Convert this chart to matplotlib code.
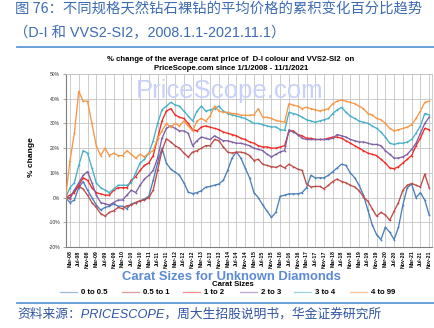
import numpy as np
import pandas as pd
import matplotlib
matplotlib.use("Agg")
import matplotlib.pyplot as plt
from matplotlib.lines import Line2D

# ---------------- data ----------------
dates = pd.date_range("2008-01-01", "2021-11-01", freq="2MS")

s_0_05 = [0, -2, -1, 4, 6.5, 3, 0, -3, -5, -4,
          -3.5, -2.6, -3.5, -3.5, -4.5, -2.6, -2, -1.5, -0.5, 0.5,
          7, 14, 20, 14, 11.5, 10.3, 9, 6, 2.2, 1.6,
          2, 2.8, 4.2, 4.5, 5, 5.5, 7, 11, 16, 18.5,
          16, 12, 8, 2, 0, -3, -5.5, -8, -6, 0.5,
          1, 1.5, 1.5, 1.5, 2, 4, 9, 8, 8, 8,
          9, 10.5, 12, 13.5, 13, 10, 8, 5, 1, -5,
          -11, -15, -17, -12, -14, -17, -12, -3, 4, 5.5,
          0, 2, -1, -7]
s_05_1 = [0, -0.5, 3, 4.5, 3.5, 1, -2, -4, -6.5, -7.5,
          -6, -5.3, -4, -4.5, -3.3, -3, -2, -1.2, -1, 0,
          3, 11, 19, 23.8, 22.5, 21, 20, 18, 16.4, 18.4,
          19, 20, 21, 21, 23.5, 23, 20.5, 18.4, 18, 18.4,
          18.4, 18, 17, 15, 15.5, 13.5, 13, 12.5, 12.2, 13,
          12, 13.5, 12.5, 11.5, 11, 5.5, 4.3, 4.5, 4.5, 3.6,
          5, 6.5, 7.5, 6.5, 6, 5, 4.3, 2.8, 0.3, -1.5,
          -4.5, -7.5, -6, -7, -9.2, -5.5, -2, 3, 5, 5.7,
          5, 4.3, 9.5, 4]
s_1_2 = [0, 1, 2, 5, 8, 7, 4, 2, 1.5, 1,
         1, 3, 4, 4, 4, 7, 8.5, 11, 13, 14,
         17, 24, 31, 35, 36, 33.5, 32.5, 32, 30, 27.5,
         27, 28.5, 29, 28.5, 28, 27.5, 26.5, 26, 25.5, 25,
         24, 23.5, 22.5, 22, 21, 20.5, 20.5, 20, 20, 20.5,
         21, 27, 27, 25.5, 25, 24, 24, 23.5, 23.5, 23.5,
         24, 24.5, 24.5, 24, 23, 22, 21, 20, 19, 18,
         17.5, 17, 15.5, 14, 12, 11.7, 12.5, 14, 15.5, 17,
         21, 24, 28, 27.5]
s_2_3 = [0, 0, 3, 6, 9, 10.5, 6, 1, -2, -2.5,
         -3, -2, -1, -1, 1, 3, 2, 5, 7.5, 9,
         11, 16, 24, 28, 29, 28, 27, 27, 26, 21,
         23, 24.5, 24, 23.5, 25, 24, 23, 23, 22.5, 22,
         22, 21.5, 21, 20, 19.5, 19, 17.5, 16.5, 17.5, 18.5,
         19, 27.5, 26.5, 25.5, 24, 23.5, 23.5, 23.5, 23.5, 23.5,
         23.5, 24, 25.5, 25, 24.5, 23.5, 23, 22.5, 22.5, 22,
         21.5, 21.5, 21, 19, 17.5, 16, 16, 16.5, 17.5, 19.5,
         22, 26, 30, 32.5]
s_3_4 = [0, 4, 6, 13, 19, 18, 12, 6, 4, 3,
         2, 3.5, 5, 5, 5, 6, 10, 14, 15.5, 18,
         23, 30, 35.5, 37, 38.5, 37.5, 37, 35, 33, 31,
         35, 37, 35, 35.5, 36, 37, 35, 34, 33.5, 33,
         32.5, 32, 31, 30, 30, 29.5, 29, 28.6, 28.6, 27.5,
         27.2, 34.5, 34, 33.5, 32.5, 31.5, 31, 30.5, 31, 31.5,
         32, 34, 35.5, 36.5, 34.5, 33, 32, 31, 30.5, 30,
         29, 28, 26.5, 24.5, 22, 21.5, 22, 22, 22.5, 23.5,
         26, 29, 34, 33.5]
s_4_99 = [0, 15, 26, 43, 39, 39, 30, 21, 17, 20,
          17, 18, 17, 17, 19, 17.5, 16, 17.5, 16.5, 18,
          19, 24, 27, 30, 28.5, 30, 29, 31, 29, 27,
          31, 32, 31, 33, 37, 35, 34.5, 34.5, 34, 34,
          33.3, 33.3, 33.3, 33.5, 36, 32.5, 32.5, 32, 31.2, 30.8,
          30.6, 38, 37.4, 37, 36, 36.5, 36, 35.5, 35, 35.5,
          36, 38, 39, 39.4, 39, 38.5, 38, 37, 36, 34,
          33.5, 32, 31.5, 30, 28, 27, 27.5, 28, 28.5, 29.5,
          32, 35, 38.5, 39]

series_names = ["0 to 0.5", "0.5 to 1", "1 to 2", "2 to 3", "3 to 4", "4 to 99"]
series_values = [s_0_05, s_05_1, s_1_2, s_2_3, s_3_4, s_4_99]
series_colors = ["#4a7ebb", "#be4b48", "#f42a24", "#7f5fa6", "#45b0c8", "#f79646"]

tick_labels = ["Mar-08", "Jul-08", "Nov-08", "Mar-09", "Jul-09", "Nov-09",
               "Mar-10", "Jul-10", "Nov-10", "Mar-11", "Jul-11", "Nov-11",
               "Mar-12", "Jul-12", "Nov-12", "Mar-13", "Jul-13", "Nov-13",
               "Mar-14", "Jul-14", "Nov-14", "Mar-15", "Jul-15", "Nov-15",
               "Mar-16", "Jul-16", "Nov-16", "Mar-17", "Jul-17", "Nov-17",
               "Mar-18", "Jul-18", "Nov-18", "Mar-19", "Jul-19", "Nov-19",
               "Mar-20", "Jul-20", "Nov-20", "Mar-21", "Jul-21", "Nov-21"]
tick_dates = pd.to_datetime(["01-" + t for t in tick_labels], format="%d-%b-%y")

def month_index(d):
    return (d.year - 2008) * 12 + (d.month - 1)

x = np.array([month_index(d) for d in dates])
xt = np.array([month_index(d) for d in tick_dates])

# ---------------- figure ----------------
W, H = 434, 328
fig = plt.figure(figsize=(W / 100, H / 100), dpi=100)
fig.patch.set_facecolor("white")

def fx(px):
    return px / W

def fy(py):
    return 1 - py / H

cjk = ["Noto Sans CJK SC", "DejaVu Sans"]
lat_cjk = ["Liberation Sans", "Noto Sans CJK SC"]
hdr_col = "#3d6cb3"

fig.text(fx(15), fy(9), "图 76：不同规格天然钻石裸钻的平均价格的累积变化百分比趋势",
         family=cjk, fontsize=10.35, color=hdr_col, va="center", ha="left")
fig.text(fx(14), fy(33), "（D-I 和 VVS2-SI2，2008.1.1-2021.11.1）",
         family=lat_cjk, fontsize=10.4, color=hdr_col, va="center", ha="left")
fig.add_artist(Line2D([fx(17), fx(434)], [fy(47), fy(47)], transform=fig.transFigure,
                      color="#5b9bd5", lw=1.3))

fig.text(fx(231), fy(59.5), "% change of the average carat price of  D-I colour and VVS2-SI2  on",
         family="Liberation Sans", fontweight="bold", fontsize=5.6, ha="center", va="center")
fig.text(fx(231), fy(68), "PriceScope.com since 1/1/2008 - 11/1/2021",
         family="Liberation Sans", fontweight="bold", fontsize=5.6, ha="center", va="center")

ax = fig.add_axes([fx(65.6), fy(247), (432 - 65.6) / W, (247 - 74) / H])
ax.set_xlim(0, 167.3)
ax.set_ylim(-20, 50)

ax.text(0.449, 0.90, "PriceScope.com", transform=ax.transAxes, family="Liberation Sans",
        fontsize=18.5, color="#c8d1fa", ha="center", va="center", zorder=1)

for vals, col in zip(series_values, series_colors):
    ax.plot(x, vals, color=col, lw=0.95, marker="o", ms=1.3, mew=0, zorder=3)

ax.set_xticks(xt)
ax.set_xticklabels(tick_labels, rotation=90, fontsize=3.7, fontweight="bold",
                   family="Liberation Sans")
ax.tick_params(axis="x", length=0, pad=2.5)
yt = np.arange(-20, 51, 10)
ax.set_yticks(yt)
ax.set_yticklabels([f"{v}%" for v in yt], fontsize=3.6, color="#333333",
                   family="Liberation Sans")
ax.tick_params(axis="y", length=2, width=0.5, color="#808080", pad=2)
ax.grid(True, color="#c4c4c4", lw=0.6)
ax.set_axisbelow(True)
for s in ["left", "bottom"]:
    ax.spines[s].set_color("#7f7f7f")
    ax.spines[s].set_linewidth(0.8)
for s in ["top", "right"]:
    ax.spines[s].set_color("#c4c4c4")
    ax.spines[s].set_linewidth(0.6)

fig.text(fx(31.5), fy(157), "% change", rotation=90, family="Liberation Sans",
         fontweight="bold", fontsize=6, ha="center", va="center")

fig.text(fx(231), fy(277), "Carat Sizes for Unknown Diamonds", family="Liberation Sans",
         fontweight="bold", fontsize=9.4, color="#5b8ad6", ha="center", va="center")
fig.text(fx(232.5), fy(285), "Carat Sizes", family="Liberation Sans",
         fontweight="bold", fontsize=5.6, ha="center", va="center")

leg_x = [60, 122, 183, 240, 294, 350]
for lx, name, col in zip(leg_x, series_names, series_colors):
    fig.add_artist(Line2D([fx(lx), fx(lx + 17)], [fy(292), fy(292)], transform=fig.transFigure,
                          color=col, lw=0.9, alpha=0.55))
    fig.text(fx(lx + 21), fy(292), name, family="Liberation Sans", fontweight="bold",
             fontsize=5.6, ha="left", va="center")

fig.add_artist(Line2D([fx(17), fx(434)], [fy(303), fy(303)], transform=fig.transFigure,
                      color="#5b9bd5", lw=1.3))
fig.text(fx(17), fy(314), "资料来源：PRICESCOPE，周大生招股说明书，华金证券研究所",
         family=lat_cjk, style="italic", fontsize=9.2, color="#2f55a4", ha="left", va="center")

fig.savefig("out.png", dpi=100, facecolor="white")
